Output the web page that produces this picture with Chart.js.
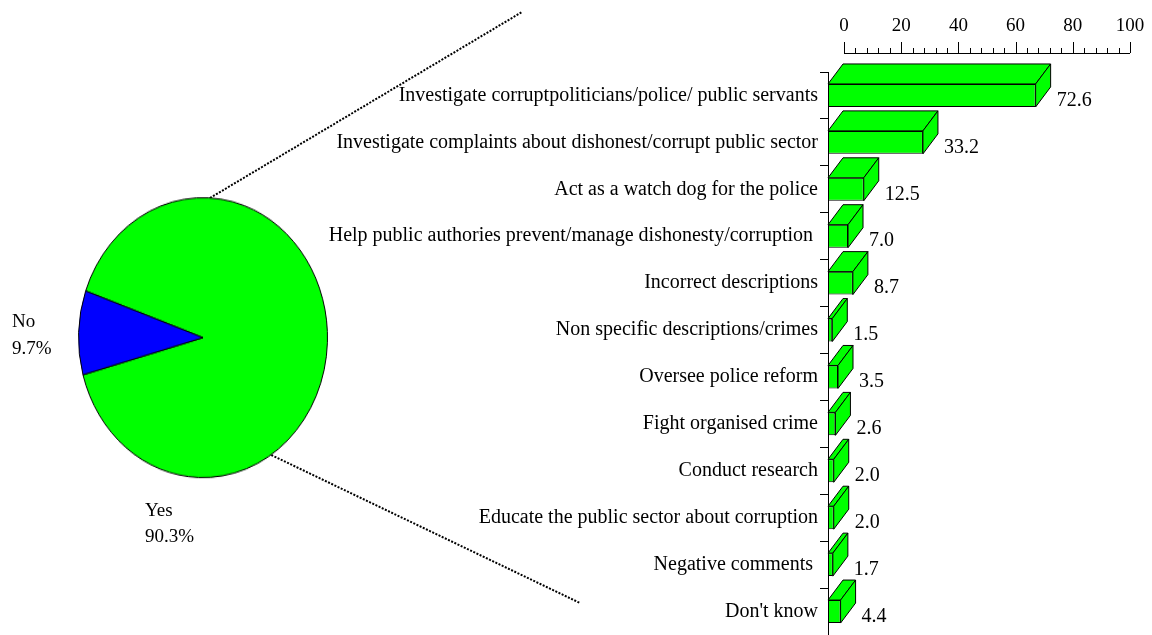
<!DOCTYPE html>
<html>
<head>
<meta charset="utf-8">
<script src="https://cdn.jsdelivr.net/npm/chart.js@4.4.1/dist/chart.umd.min.js"></script>
<style>
  html, body { margin: 0; padding: 0; background: #fff; overflow: hidden; }
  #page { position: relative; width: 1152px; height: 635px; }
  #bar-box { position: absolute; left: 0; top: 0; width: 1152px; height: 635px; }
  #pie-box { position: absolute; left: 77px; top: 196px; width: 252px; height: 252px; transform: scaleY(1.124); transform-origin: 0 0; }
</style>
</head>
<body>
<div id="page">
  <div id="bar-box"><canvas id="bar-chart"></canvas></div>
  <div id="pie-box"><canvas id="pie-chart" width="252" height="252"></canvas></div>
</div>
<script>
// pie data
const pieLabels = ['Yes', 'No'];
const pieValues = [90.3, 9.7];

// bar data
const categories = [
    'Investigate corruptpoliticians/police/ public servants',
    'Investigate complaints about dishonest/corrupt public sector',
    'Act as a watch dog for the police',
    'Help public authories prevent/manage dishonesty/corruption ',
    'Incorrect descriptions',
    'Non specific descriptions/crimes',
    'Oversee police reform',
    'Fight organised crime',
    'Conduct research',
    'Educate the public sector about corruption',
    'Negative comments ',
    "Don't know"
];
const values = [72.6, 33.2, 12.5, 7.0, 8.7, 1.5, 3.5, 2.6, 2.0, 2.0, 1.7, 4.4];
const axisTicks = [0, 20, 40, 60, 80, 100];

const FONT = "'Liberation Serif', 'Times New Roman', serif";
const GREEN = '#00ff00';
const DX = 15, DY = 20;   // depth of the 3d bars

document.addEventListener('DOMContentLoaded', function() {
    new Chart(document.getElementById('pie-chart'), {
        type: 'pie',
        data: {
            labels: pieLabels,
            datasets: [{
                data: pieValues,
                backgroundColor: [GREEN, '#0000ff'],
                borderColor: '#000',
                borderWidth: 1
            }]
        },
        options: {
            responsive: false,
            animation: false,
            rotation: 289.5,
            layout: { padding: 1 },
            plugins: { legend: { display: false }, tooltip: { enabled: false } }
        }
    });

    // 3d faces + value labels
    const bar3d = {
        id: 'bar3d',
        afterDatasetsDraw(chart) {
            const ctx = chart.ctx;
            const meta = chart.getDatasetMeta(0);
            ctx.save();
            ctx.lineWidth = 1;
            ctx.strokeStyle = '#000';
            meta.data.forEach((bar, i) => {
                const p = bar.getProps(['x', 'y', 'base', 'height'], true);
                const l = p.base, r = p.x;
                const t = p.y - p.height / 2, b = p.y + p.height / 2;
                ctx.fillStyle = GREEN;
                ctx.beginPath();
                ctx.moveTo(l, t); ctx.lineTo(l + DX, t - DY); ctx.lineTo(r + DX, t - DY); ctx.lineTo(r, t);
                ctx.closePath(); ctx.fill(); ctx.stroke();
                ctx.beginPath();
                ctx.moveTo(r, t); ctx.lineTo(r + DX, t - DY); ctx.lineTo(r + DX, b - DY); ctx.lineTo(r, b);
                ctx.closePath(); ctx.fill(); ctx.stroke();

                ctx.fillStyle = '#000';
                ctx.font = '20px ' + FONT;
                ctx.textAlign = 'left';
                ctx.textBaseline = 'middle';
                ctx.fillText(values[i].toFixed(1), r + DX + 6, p.y + 5);
            });
            ctx.restore();
        },
        afterDraw(chart) {
            const ctx = chart.ctx;
            const top = chart.scales.xTop;
            const axisY = 53;
            ctx.save();
            ctx.strokeStyle = '#000';
            ctx.lineWidth = 1;
            ctx.beginPath();
            ctx.moveTo(top.getPixelForValue(0), axisY + 0.5);
            ctx.lineTo(top.getPixelForValue(100), axisY + 0.5);
            for (let v = 0; v <= 100; v += 4) {
                const x = Math.round(top.getPixelForValue(v)) + 0.5;
                ctx.moveTo(x, axisY);
                ctx.lineTo(x, v % 20 === 0 ? axisY - 11 : axisY - 5);
            }
            ctx.stroke();

            // leader lines from the pie
            ctx.lineWidth = 2;
            ctx.setLineDash([2, 1.5]);
            ctx.beginPath();
            ctx.moveTo(210, 198); ctx.lineTo(522, 12);
            ctx.moveTo(265, 452); ctx.lineTo(580, 603);
            ctx.stroke();
            ctx.setLineDash([]);

            // pie labels
            ctx.fillStyle = '#000';
            ctx.font = '19px ' + FONT;
            ctx.textAlign = 'left';
            ctx.textBaseline = 'middle';
            ctx.fillText(pieLabels[1], 12, 322);
            ctx.fillText(pieValues[1].toFixed(1) + '%', 12, 349);
            ctx.fillText(pieLabels[0], 145, 511);
            ctx.fillText(pieValues[0].toFixed(1) + '%', 145, 537);
            ctx.restore();
        }
    };

    new Chart(document.getElementById('bar-chart'), {
        type: 'bar',
        data: {
            labels: categories,
            datasets: [{
                data: values,
                xAxisID: 'x',
                yAxisID: 'y',
                backgroundColor: GREEN,
                borderColor: '#000',
                borderWidth: 1,
                borderSkipped: false,
                barPercentage: 0.49,
                categoryPercentage: 1
            }]
        },
        options: {
            indexAxis: 'y',
            responsive: true,
            maintainAspectRatio: false,
            animation: false,
            layout: { padding: { left: 0, right: 22, top: 0, bottom: 0 } },
            plugins: { legend: { display: false }, tooltip: { enabled: false } },
            scales: {
                x: { display: false, min: 0, max: 105.6 },
                xTop: {
                    type: 'linear',
                    position: 'top',
                    min: -5.6,
                    max: 100,
                    afterBuildTicks: s => { s.ticks = axisTicks.map(v => ({ value: v })); },
                    afterFit: s => { s.height = 72; s.paddingLeft = 0; s.paddingRight = 0; },
                    grid: { display: false, drawTicks: false },
                    border: { display: false },
                    ticks: { padding: 35, color: '#000', font: { family: FONT, size: 19 }, maxRotation: 0, autoSkip: false }
                },
                y: {
                    afterFit: s => { s.width = 828; s.paddingTop = 0; s.paddingBottom = 0; },
                    grid: { offset: true, drawOnChartArea: false, tickLength: 8, color: '#000' },
                    border: { display: true, color: '#000', width: 1 },
                    ticks: { padding: 2, color: '#000', autoSkip: false, font: { family: FONT, size: 20 } }
                }
            }
        },
        plugins: [bar3d]
    });
});
</script>
</body>
</html>
